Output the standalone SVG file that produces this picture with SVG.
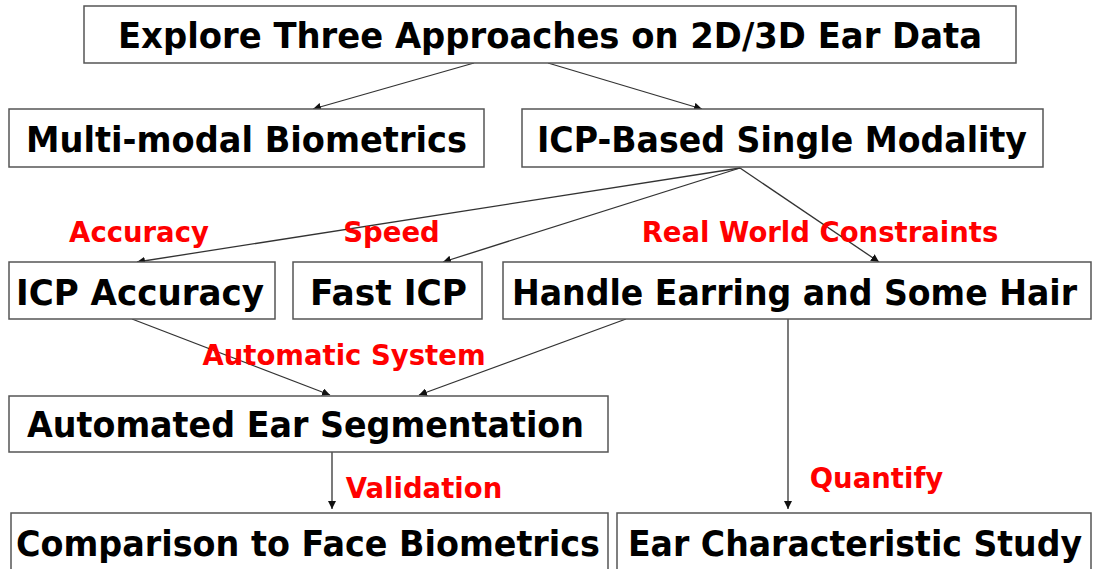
<svg xmlns="http://www.w3.org/2000/svg" width="1094" height="569" viewBox="0 0 1094 569">
<style>
.box{fill:#fff;stroke:#555;stroke-width:1.5}
.t{font-family:"DejaVu Sans",Verdana,sans-serif;font-weight:bold;font-size:35px;fill:#000;text-anchor:middle}
.lbl{font-family:"DejaVu Sans",Verdana,sans-serif;font-weight:bold;font-size:27.5px;fill:#ff0000;text-anchor:middle}
.c{stroke:#333;stroke-width:1.3;fill:none;marker-end:url(#ah)}
</style>
<defs>
<marker id="ah" viewBox="0 0 10 10" refX="10" refY="5" markerWidth="8" markerHeight="8" markerUnits="userSpaceOnUse" orient="auto">
<path d="M0,0 L10,5 L0,10 Z" fill="#111"/>
</marker>
</defs>
<rect width="1094" height="569" fill="#fff"/>
<g id="connectors">
<line class="c" x1="474" y1="63" x2="313" y2="109"/>
<line class="c" x1="548" y1="63" x2="702" y2="109"/>
<line class="c" x1="740" y1="168" x2="137" y2="262"/>
<line class="c" x1="740" y1="168" x2="443" y2="262"/>
<line class="c" x1="740" y1="168" x2="879" y2="262"/>
<line class="c" x1="132" y1="319" x2="330" y2="395"/>
<line class="c" x1="626" y1="319" x2="419" y2="395"/>
<line class="c" x1="332" y1="452" x2="332" y2="509"/>
<line class="c" x1="788" y1="319" x2="788" y2="509"/>
</g>
<g id="n-top"><rect class="box" x="84" y="6" width="932" height="57"/><text class="t" x="550" y="48" textLength="864" lengthAdjust="spacingAndGlyphs">Explore Three Approaches on 2D/3D Ear Data</text></g>
<g id="n-multi"><rect class="box" x="9" y="109" width="475" height="58"/><text class="t" x="246.5" y="152" textLength="441" lengthAdjust="spacingAndGlyphs">Multi-modal Biometrics</text></g>
<g id="n-icpbased"><rect class="box" x="522" y="109" width="521" height="58"/><text class="t" x="782" y="152" textLength="490" lengthAdjust="spacingAndGlyphs">ICP-Based Single Modality</text></g>
<g id="n-icpacc"><rect class="box" x="9" y="262" width="266" height="57"/><text class="t" x="140" y="305" textLength="248" lengthAdjust="spacingAndGlyphs">ICP Accuracy</text></g>
<g id="n-fast"><rect class="box" x="293" y="262" width="189" height="57"/><text class="t" x="388.5" y="305" textLength="157" lengthAdjust="spacingAndGlyphs">Fast ICP</text></g>
<g id="n-handle"><rect class="box" x="503" y="262" width="588" height="57"/><text class="t" x="794.5" y="305" textLength="565" lengthAdjust="spacingAndGlyphs">Handle Earring and Some Hair</text></g>
<g id="n-auto"><rect class="box" x="9" y="396" width="599" height="56"/><text class="t" x="305.5" y="437" textLength="557" lengthAdjust="spacingAndGlyphs">Automated Ear Segmentation</text></g>
<g id="n-comp"><rect class="box" x="11" y="513" width="597" height="64"/><text class="t" x="308" y="556" textLength="584" lengthAdjust="spacingAndGlyphs">Comparison to Face Biometrics</text></g>
<g id="n-earchar"><rect class="box" x="617" y="513" width="474" height="64"/><text class="t" x="855" y="556" textLength="454" lengthAdjust="spacingAndGlyphs">Ear Characteristic Study</text></g>
<g id="labels">
<text class="lbl" x="139" y="242">Accuracy</text>
<text class="lbl" x="391.5" y="242">Speed</text>
<text class="lbl" x="820" y="242">Real World Constraints</text>
<text class="lbl" x="344" y="365">Automatic System</text>
<text class="lbl" x="424" y="498">Validation</text>
<text class="lbl" x="876.5" y="488">Quantify</text>
</g>
</svg>
